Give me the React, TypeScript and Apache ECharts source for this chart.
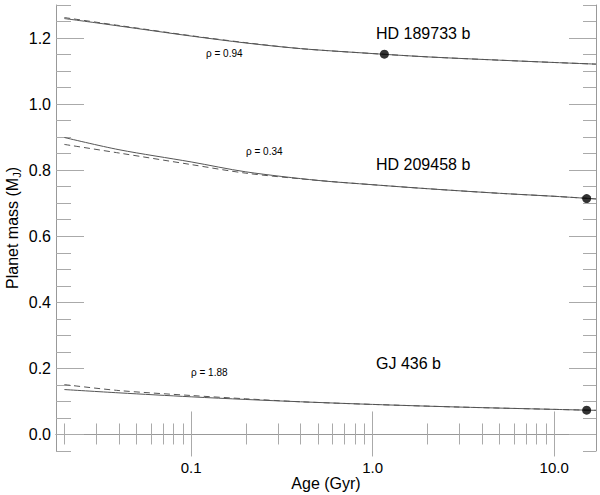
import React, { useEffect, useRef } from "react";
import * as echarts from "echarts";

// Ages (Gyr) sampled along each evolution track
const ages189 = [0.02, 0.03, 0.05, 0.1, 0.2, 0.4, 1, 2, 5, 10, 17];
const solid189 = [1.259, 1.246, 1.229, 1.206, 1.185, 1.168, 1.153, 1.143, 1.133, 1.126, 1.121];
const agesDash189 = [0.02, 0.04, 0.1, 0.2, 0.4, 1, 2, 5, 10, 17];
const dashed189 = [1.262, 1.238, 1.207, 1.186, 1.168, 1.153, 1.143, 1.133, 1.126, 1.121];

const ages209 = [0.02, 0.04, 0.1, 0.2, 0.5, 1, 2, 5, 10, 17];
const solid209 = [0.899, 0.862, 0.825, 0.795, 0.769, 0.756, 0.744, 0.730, 0.721, 0.713];
const agesDash209 = [0.02, 0.04, 0.1, 0.2, 0.5, 1, 2, 5, 10, 17];
const dashed209 = [0.878, 0.852, 0.817, 0.791, 0.769, 0.756, 0.744, 0.730, 0.721, 0.713];

const ages436 = [0.02, 0.04, 0.1, 0.2, 0.4, 1, 3, 10, 17];
const solid436 = [0.136, 0.126, 0.114, 0.106, 0.099, 0.091, 0.083, 0.076, 0.073];
const agesDash436 = [0.02, 0.04, 0.1, 0.2, 0.4, 1, 3, 10, 17];
const dashed436 = [0.151, 0.133, 0.118, 0.108, 0.099, 0.091, 0.083, 0.076, 0.073];

// Observed planets
const planetNames = ["HD 189733 b", "HD 209458 b", "GJ 436 b"];
const planetAges = [1.16, 15.1, 15.1];
const planetMasses = [1.151, 0.714, 0.0735];
const rhoLabels = ["ρ = 0.94", "ρ = 0.34", "ρ = 1.88"];

// Tick values
const xMajor = [0.1, 1, 10];
const xMinor = [0.02, 0.03, 0.04, 0.05, 0.06, 0.07, 0.08, 0.09, 0.2, 0.3, 0.4, 0.5, 0.6, 0.7, 0.8, 0.9, 2, 3, 4, 5, 6, 7, 8, 9];
const yMajor = [0, 0.2, 0.4, 0.6, 0.8, 1.0, 1.2];

const FONT = "'Liberation Sans', Helvetica, Arial, sans-serif";
const AXIS_COLOR = "#999";
const TICK_COLOR = "#aaa";
const CURVE_COLOR = "#555";

const zip = (xs: number[], ys: number[]) => xs.map((x, i) => [x, ys[i]]);

export default function App() {
  const ref = useRef<HTMLDivElement>(null);
  useEffect(() => {
    document.body.style.margin = "0";
    const chart = echarts.init(ref.current!, null, { renderer: "svg" });
    const xBase = { type: "log", logBase: 10, min: 0.018, max: 17, splitLine: { show: false } };
    const yBase = { type: "value", min: -0.05, max: 1.3, splitLine: { show: false } };
    const tick = (len: number, vals?: number[]) => ({
      show: true,
      inside: true,
      length: len,
      lineStyle: { color: TICK_COLOR, width: 1 },
      ...(vals ? { customValues: vals } : {}),
    });
    const lineSeries = (xs: number[], ys: number[], dashed: boolean) => ({
      type: "line",
      data: zip(xs, ys),
      showSymbol: false,
      smooth: 0.3,
      lineStyle: { color: CURVE_COLOR, width: 1, type: dashed ? [6, 4] : "solid" },
      xAxisIndex: 0,
      yAxisIndex: 0,
      silent: true,
    });
    const positions = [
      [376, 33],
      [376, 164],
      [376, 363],
    ];
    const rhoPos = [
      [206, 53],
      [246, 151],
      [191, 372],
    ];
    chart.setOption({
      animation: false,
      grid: { left: 56, right: 4, top: 5, bottom: 44, containLabel: false, outerBoundsMode: "none" },
      xAxis: [
        {
          ...xBase,
          position: "bottom",
          axisLine: { show: true, lineStyle: { color: AXIS_COLOR } },
          axisTick: tick(23, xMajor),
          axisLabel: {
            customValues: xMajor,
            formatter: (v: number) => v.toFixed(1),
            fontFamily: FONT,
            fontSize: 15,
            color: "#000",
            margin: 9,
          },
          name: "Age (Gyr)",
          nameLocation: "middle",
          nameGap: 24,
          nameMoveOverlap: false,
          nameTextStyle: { fontFamily: FONT, fontSize: 16, color: "#000" },
        },
        {
          ...xBase,
          position: "bottom",
          axisLine: { show: false },
          axisTick: tick(11, xMinor),
          axisLabel: { show: false },
        },
        {
          ...xBase,
          position: "top",
          axisLine: { show: true, lineStyle: { color: AXIS_COLOR } },
          axisTick: tick(22, xMajor),
          axisLabel: { show: false },
        },
        {
          ...xBase,
          position: "top",
          axisLine: { show: false },
          axisTick: tick(10, xMinor),
          axisLabel: { show: false },
        },
      ],
      yAxis: [
        {
          ...yBase,
          position: "left",
          axisLine: { show: true, lineStyle: { color: AXIS_COLOR } },
          axisTick: tick(28, yMajor),
          axisLabel: {
            customValues: yMajor,
            formatter: (v: number) => v.toFixed(1),
            fontFamily: FONT,
            fontSize: 16,
            color: "#000",
            margin: 5,
          },
          name: "Planet mass (M{sub|J})",
          nameLocation: "middle",
          nameGap: 34,
          nameMoveOverlap: false,
          nameTextStyle: {
            fontFamily: FONT,
            fontSize: 16,
            color: "#000",
            lineHeight: 20,
            rich: {
              sub: { fontFamily: FONT, fontSize: 11, color: "#000", lineHeight: 11, verticalAlign: "bottom" },
            },
          },
        },
        {
          ...yBase,
          interval: 0.05,
          position: "left",
          axisLine: { show: false },
          axisTick: tick(15),
          axisLabel: { show: false },
        },
        {
          ...yBase,
          position: "right",
          axisLine: { show: true, lineStyle: { color: AXIS_COLOR } },
          axisTick: tick(27, yMajor),
          axisLabel: { show: false },
        },
        {
          ...yBase,
          interval: 0.05,
          position: "right",
          axisLine: { show: false },
          axisTick: tick(13),
          axisLabel: { show: false },
        },
      ],
      series: [
        lineSeries(ages189, solid189, false),
        lineSeries(agesDash189, dashed189, true),
        lineSeries(ages209, solid209, false),
        lineSeries(agesDash209, dashed209, true),
        lineSeries(ages436, solid436, false),
        lineSeries(agesDash436, dashed436, true),
        {
          type: "scatter",
          data: zip(planetAges, planetMasses),
          symbol: "circle",
          symbolSize: 9,
          itemStyle: { color: "#000" },
          xAxisIndex: 0,
          yAxisIndex: 0,
          silent: true,
          z: 5,
        },
      ],
      graphic: [
        ...planetNames.map((t, i) => ({
          type: "text",
          x: positions[i][0],
          y: positions[i][1],
          style: { text: t, fontFamily: FONT, fontSize: 16, fill: "#000", verticalAlign: "middle", align: "left" },
        })),
        ...rhoLabels.map((t, i) => ({
          type: "text",
          x: rhoPos[i][0],
          y: rhoPos[i][1],
          style: { text: t, fontFamily: FONT, fontSize: 10, fill: "#000", verticalAlign: "middle", align: "left" },
        })),
      ],
    });
    return () => chart.dispose();
  }, []);
  return <div ref={ref} style={{ width: 600, height: 495 }} />;
}
